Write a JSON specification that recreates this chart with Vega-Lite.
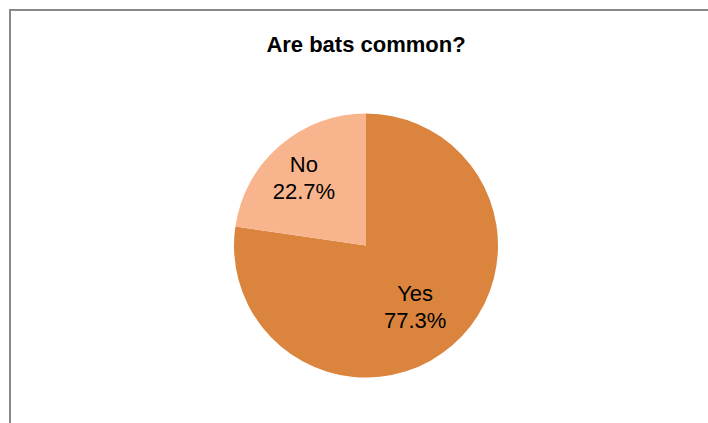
{
  "$schema": "https://vega.github.io/schema/vega-lite/v6.json",
  "autosize": {"type": "none"},
  "width": 712,
  "height": 471,
  "padding": {"left": 10, "top": 10, "right": -14, "bottom": -58},
  "background": "white",
  "view": {"stroke": "#898989", "strokeWidth": 2, "fill": "white"},
  "config": {
    "font": "Liberation Sans"
  },
  "title": {
    "text": "Are bats common?",
    "font": "Liberation Sans",
    "fontSize": 22,
    "fontWeight": "bold",
    "color": "black",
    "anchor": "middle",
    "baseline": "alphabetic",
    "offset": -64
  },
  "data": {
    "values": [
      {"answer": "Yes", "percent": 77.3, "label": "77.3%", "order": 1},
      {"answer": "No", "percent": 22.7, "label": "22.7%", "order": 2}
    ]
  },
  "encoding": {
    "theta": {"field": "percent", "type": "quantitative", "stack": true},
    "order": {"field": "order", "type": "quantitative"}
  },
  "layer": [
    {
      "mark": {"type": "arc", "outerRadius": 132},
      "encoding": {
        "color": {
          "field": "answer",
          "type": "nominal",
          "scale": {"domain": ["Yes", "No"], "range": ["#DA843E", "#F8B58D"]},
          "legend": null
        }
      }
    },
    {
      "mark": {"type": "text", "radius": 85, "fontSize": 22, "color": "black", "align": "center", "baseline": "alphabetic", "dx": -6.5, "dy": -9.2},
      "encoding": {"text": {"field": "answer", "type": "nominal"}}
    },
    {
      "mark": {"type": "text", "radius": 85, "fontSize": 22, "color": "black", "align": "center", "baseline": "alphabetic", "dx": -6.5, "dy": 18.2},
      "encoding": {"text": {"field": "label", "type": "nominal"}}
    }
  ]
}
